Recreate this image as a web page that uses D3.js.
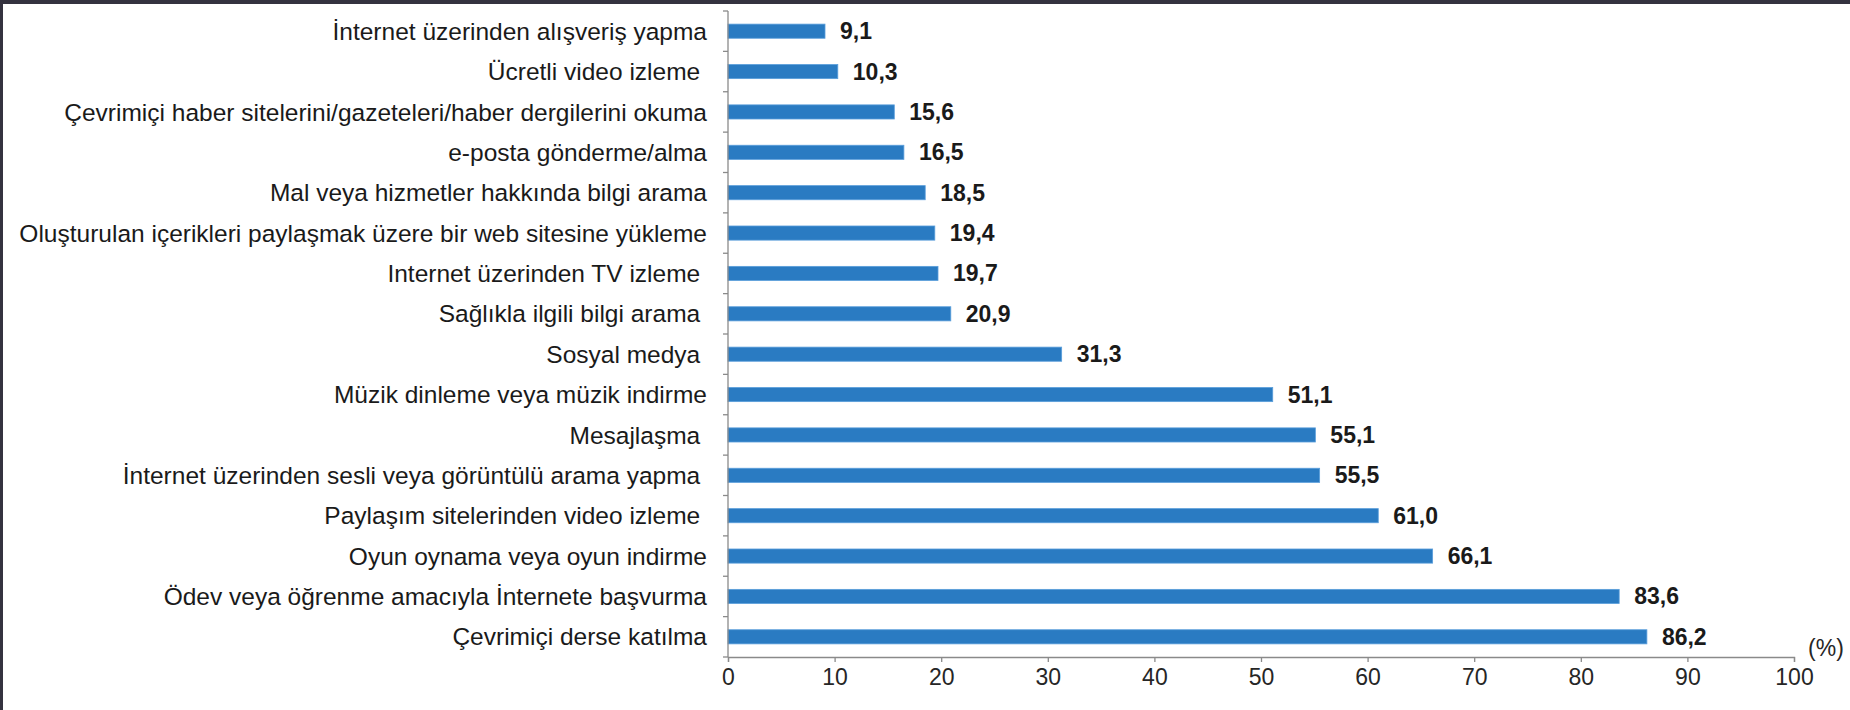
<!DOCTYPE html>
<html><head><meta charset="utf-8">
<script src="https://cdn.jsdelivr.net/npm/d3@7"></script>
<style>
html,body{margin:0;padding:0;background:#fff;}
svg{display:block;}
</style></head>
<body>
<svg id="chart" width="1850" height="710"></svg>
<script>
const categories = [
  "İnternet üzerinden alışveriş yapma",
  "Ücretli video izleme ",
  "Çevrimiçi haber sitelerini/gazeteleri/haber dergilerini okuma",
  "e-posta gönderme/alma",
  "Mal veya hizmetler hakkında bilgi arama",
  "Oluşturulan içerikleri paylaşmak üzere bir web sitesine yükleme",
  "Internet üzerinden TV izleme ",
  "Sağlıkla ilgili bilgi arama ",
  "Sosyal medya ",
  "Müzik dinleme veya müzik indirme",
  "Mesajlaşma ",
  "İnternet üzerinden sesli veya görüntülü arama yapma ",
  "Paylaşım sitelerinden video izleme ",
  "Oyun oynama veya oyun indirme",
  "Ödev veya öğrenme amacıyla İnternete başvurma",
  "Çevrimiçi derse katılma"
];
const values = [9.1, 10.3, 15.6, 16.5, 18.5, 19.4, 19.7, 20.9, 31.3, 51.1, 55.1, 55.5, 61.0, 66.1, 83.6, 86.2];
const xTicks = [0, 10, 20, 30, 40, 50, 60, 70, 80, 90, 100];
const unitLabel = "(%)";

const svg = d3.select("#chart");
svg.append("rect").attr("x",0).attr("y",0).attr("width",1850).attr("height",710).attr("fill","#fff");
svg.append("rect").attr("x",0).attr("y",0).attr("width",1850).attr("height",4).attr("fill","#34323f");
svg.append("rect").attr("x",0).attr("y",0).attr("width",3).attr("height",710).attr("fill","#34323f");

const x = d3.scaleLinear().domain([0,100]).range([728,1794]);
const y = d3.scaleBand().domain(categories).range([11,657]).paddingInner(0.65).paddingOuter(0.325);
const yTickScale = d3.scaleLinear().domain([0, categories.length]).range([11,657]);

const fontFam = "'Liberation Sans',Arial,sans-serif";

svg.append("g").selectAll("rect").data(values).join("rect")
  .attr("x", x(0))
  .attr("y", (d,i)=>y(categories[i]))
  .attr("width", d=>x(d)-x(0))
  .attr("height", y.bandwidth())
  .attr("fill","#2a7bc2")
  .attr("stroke","#5a9edb")
  .attr("stroke-width",0.8);

const xAxis = d3.axisBottom(x).tickValues(xTicks).tickSize(5).tickPadding(7).tickFormat(d3.format("d"));
const gx = svg.append("g").attr("transform","translate(0,657)").call(xAxis);
gx.select(".domain").attr("stroke","#8a8a8a").attr("stroke-width",1.3);
gx.selectAll(".tick line").attr("stroke","#8a8a8a").attr("stroke-width",1.3);
gx.selectAll(".tick text").attr("font-family",fontFam).attr("font-size",23).attr("fill","#262626");

const gy = svg.append("g");
gy.append("line").attr("x1",x(0)).attr("x2",x(0)).attr("y1",11).attr("y2",657).attr("stroke","#8a8a8a").attr("stroke-width",1.3);
gy.selectAll("line.t").data(d3.range(categories.length+1)).join("line").attr("class","t")
  .attr("x1",x(0)-5).attr("x2",x(0)).attr("y1",d=>yTickScale(d)).attr("y2",d=>yTickScale(d))
  .attr("stroke","#8a8a8a").attr("stroke-width",1.3);

svg.append("g").selectAll("text").data(categories).join("text")
  .attr("x", 707)
  .attr("y", d=>y(d)+y.bandwidth()/2)
  .attr("dy","0.35em")
  .attr("text-anchor","end")
  .attr("font-family",fontFam).attr("font-size",24.5).attr("fill","#1a1a1a")
  .style("white-space","pre")
  .text(d=>d);

svg.append("g").selectAll("text").data(values).join("text")
  .attr("x", d=>x(d)+15)
  .attr("y", (d,i)=>y(categories[i])+y.bandwidth()/2)
  .attr("dy","0.35em")
  .attr("font-family",fontFam).attr("font-size",23).attr("font-weight","bold").attr("fill","#1a1a1a")
  .text(d=>d.toFixed(1).replace(".",","));

svg.append("text").attr("x",1826).attr("y",648).attr("dy","0.35em").attr("text-anchor","middle")
  .attr("font-family",fontFam).attr("font-size",23).attr("fill","#262626").text(unitLabel);
</script>
</body></html>
